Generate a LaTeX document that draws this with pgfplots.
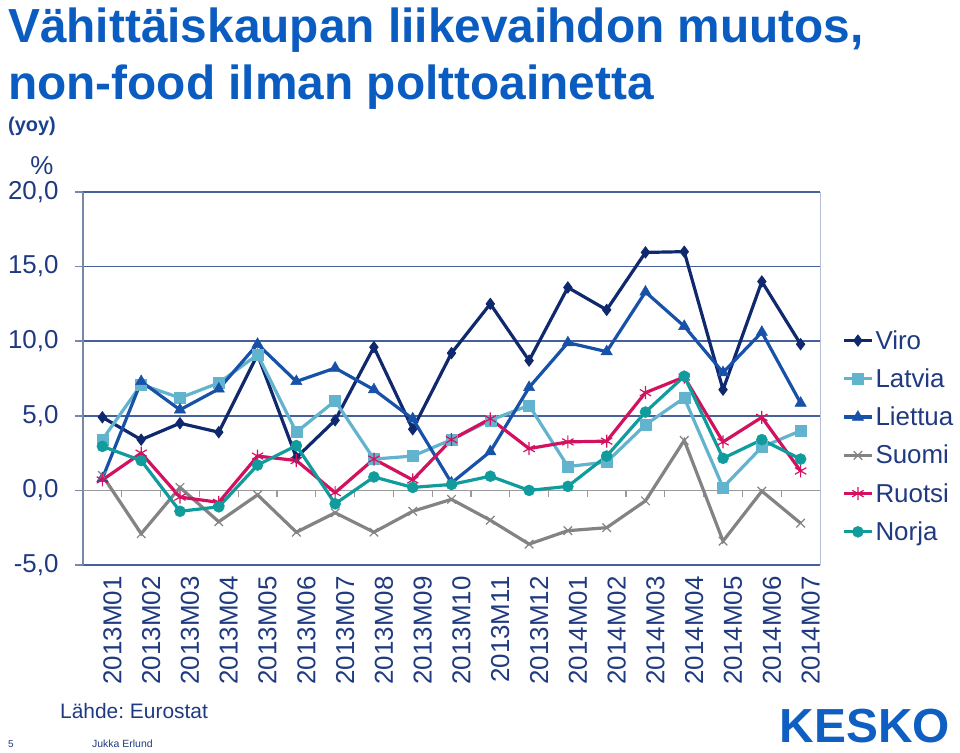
\documentclass[border=0pt]{standalone}
\usepackage{pgfplots}
\pgfplotsset{compat=1.18}
\usepackage{fontspec}
\setmainfont{Liberation Sans}
\frenchspacing
\definecolor{titleblue}{HTML}{0B5CC0}
\definecolor{navytext}{HTML}{1F3A80}
\definecolor{gridcol}{HTML}{45609A}
\definecolor{leftax}{HTML}{7888A8}
\definecolor{zerogray}{HTML}{9A9A9A}
\definecolor{cViro}{HTML}{10286E}
\definecolor{cLatvia}{HTML}{62B3CE}
\definecolor{cLiettua}{HTML}{1751A8}
\definecolor{cSuomi}{HTML}{838383}
\definecolor{cRuotsi}{HTML}{D3125F}
\definecolor{cNorja}{HTML}{109C9C}
\definecolor{kesko}{HTML}{0F5FC2}
\begin{document}
\begin{tikzpicture}[x=1bp,y=1bp]
\useasboundingbox (0,0) rectangle (960,753);
% titles
\node[anchor=base west,inner sep=0,text=titleblue,font=\fontsize{48}{56}\selectfont\bfseries] at (8,710) {Vähittäiskaupan liikevaihdon muutos,};
\node[anchor=base west,inner sep=0,text=titleblue,font=\fontsize{48}{56}\selectfont\bfseries] at (8,653) {non-food ilman polttoainetta};
\node[anchor=base west,inner sep=0,text=navytext!80!titleblue,font=\fontsize{20}{24}\selectfont\bfseries] at (8,621) {(yoy)};
\node[anchor=center,inner sep=0,text=navytext,font=\fontsize{26}{30}\selectfont] at (42,587) {\%};
% footer
\node[anchor=base west,inner sep=0,text=navytext,font=\fontsize{21}{25}\selectfont] at (60,34) {Lähde: Eurostat};
\node[anchor=base west,inner sep=0,text=navytext,font=\fontsize{10}{12}\selectfont] at (8,5) {5};
\node[anchor=base west,inner sep=0,text=navytext,font=\fontsize{10.5}{12}\selectfont] at (92,5) {Jukka Erlund};
\node[anchor=base east,inner sep=0,text=kesko,font=\fontsize{48}{52}\selectfont\bfseries] at (950,10.5) {KESKO};
\begin{axis}[
  at={(83bp,188bp)}, anchor=south west,
  scale only axis, width=737bp, height=373bp,
  xmin=-0.5, xmax=18.5, ymin=-5, ymax=20,
  axis y line*=left, axis x line*=bottom,
  x axis line style={draw=gridcol,line width=1.5bp},
  y axis line style={draw=leftax,line width=1.5bp},
  ytick={-5,0,5,10,15,20},
  yticklabels={-5{,}0,0{,}0,5{,}0,10{,}0,15{,}0,20{,}0},
  xtick={0,...,18},
  xticklabels={2013M01,2013M02,2013M03,2013M04,2013M05,2013M06,2013M07,2013M08,2013M09,2013M10,2013M11,2013M12,2014M01,2014M02,2014M03,2014M04,2014M05,2014M06,2014M07},
  tick align=outside,
  major tick length=8bp,
  xtick style={draw=none},
  ytick style={draw=leftax,line width=1.5bp},
  ymajorgrids,
  grid style={draw=gridcol,line width=1.5bp},
  tick label style={text=navytext,font=\fontsize{26}{30}\selectfont},
  yticklabel style={xshift=-13bp},
  xticklabel style={rotate=90,anchor=east,yshift=-10bp},
  /pgf/number format/assume math mode=true,
  clip=false,
  legend cell align=left,
  legend style={at={(axis description cs:1.03,0.64)}, anchor=north west, draw=none, fill=none,
    font=\fontsize{26}{30}\selectfont, text=navytext, row sep=14bp, inner xsep=0pt,
    nodes={inner xsep=2bp}},
  legend image code/.code={\draw[mark repeat=2,mark phase=2] plot coordinates {(0bp,0bp) (14bp,0bp) (28bp,0bp)};},
  every axis plot/.append style={line width=3.2bp},
]
\draw[zerogray,line width=1.5bp] (axis cs:-0.5,0) -- (axis cs:18.5,0);
\pgfplotsinvokeforeach{0.5,1.5,2.5,3.5,4.5,5.5,6.5,7.5,8.5,9.5,10.5,11.5,12.5,13.5,14.5,15.5,16.5,17.5}{\draw[zerogray,line width=1.2bp] (axis cs:#1,0) -- (axis cs:#1,-0.47);}
\draw[gridcol!40,line width=1bp] (axis cs:18.5,-5) -- (axis cs:18.5,20);

\addplot[color=cViro, mark=diamond*, mark size=5.5bp, mark options={solid,line width=1bp}] coordinates {
(0,4.9) (1,3.4) (2,4.5) (3,3.9) (4,9.1) (5,2.2) (6,4.7) (7,9.6) (8,4.1) (9,9.2)
(10,12.5) (11,8.7) (12,13.6) (13,12.1) (14,15.95) (15,16.0) (16,6.75) (17,14.0) (18,9.8)};
\addlegendentry{Viro}
\addplot[color=cLatvia, mark=square*, mark size=5.5bp, mark options={solid,line width=0.5bp}] coordinates {
(0,3.4) (1,7.1) (2,6.2) (3,7.2) (4,9.1) (5,3.9) (6,6.0) (7,2.1) (8,2.3) (9,3.4)
(10,4.7) (11,5.7) (12,1.6) (13,1.9) (14,4.4) (15,6.2) (16,0.2) (17,2.9) (18,4.0)};
\addlegendentry{Latvia}
\addplot[color=cLiettua, mark=triangle*, mark size=6.5bp, mark options={solid,line width=0.5bp}] coordinates {
(0,0.8) (1,7.3) (2,5.4) (3,6.8) (4,9.8) (5,7.3) (6,8.2) (7,6.75) (8,4.8) (9,0.5)
(10,2.6) (11,6.9) (12,9.9) (13,9.3) (14,13.3) (15,11.0) (16,7.9) (17,10.6) (18,5.85)};
\addlegendentry{Liettua}
\addplot[color=cSuomi, mark=x, mark size=6bp, mark options={solid,line width=1.2bp}] coordinates {
(0,1.0) (1,-2.9) (2,0.2) (3,-2.1) (4,-0.3) (5,-2.8) (6,-1.5) (7,-2.8) (8,-1.4) (9,-0.6)
(10,-2.0) (11,-3.6) (12,-2.7) (13,-2.5) (14,-0.7) (15,3.35) (16,-3.4) (17,-0.05) (18,-2.2)};
\addlegendentry{Suomi}
\addplot[color=cRuotsi, mark=asterisk, mark size=6.5bp, mark options={solid,line width=1.2bp}] coordinates {
(0,0.7) (1,2.5) (2,-0.45) (3,-0.8) (4,2.3) (5,2.0) (6,-0.15) (7,2.1) (8,0.7) (9,3.4)
(10,4.8) (11,2.8) (12,3.25) (13,3.3) (14,6.55) (15,7.6) (16,3.25) (17,4.9) (18,1.3)};
\addlegendentry{Ruotsi}
\addplot[color=cNorja, mark=*, mark size=5.5bp, mark options={solid,line width=0.5bp}] coordinates {
(0,2.95) (1,2.0) (2,-1.4) (3,-1.1) (4,1.7) (5,3.0) (6,-0.9) (7,0.9) (8,0.2) (9,0.4)
(10,0.95) (11,0.0) (12,0.27) (13,2.3) (14,5.25) (15,7.65) (16,2.15) (17,3.4) (18,2.1)};
\addlegendentry{Norja}
\end{axis}
\end{tikzpicture}
\end{document}
